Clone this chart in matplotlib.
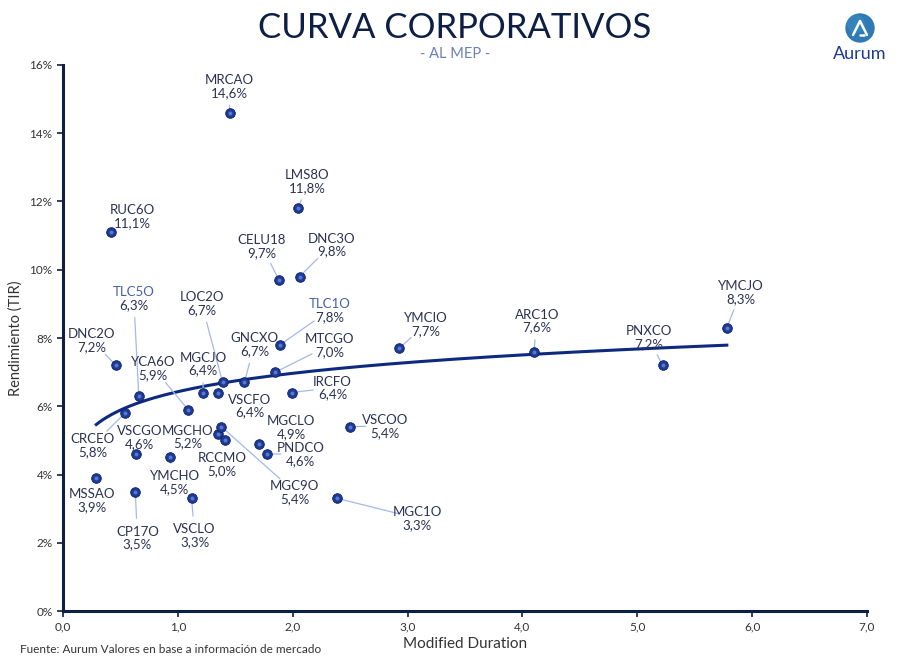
import matplotlib.pyplot as plt
import numpy as np
from matplotlib.patches import Circle

# bonds: modified duration (years) and yield (%)
names = [
    "MRCAO", "LMS8O", "RUC6O", "CELU18", "DNC3O", "TLC1O", "GNCXO", "MTCGO",
    "IRCFO", "YMCIO", "VSCOO", "MGCLO", "PNDCO", "MGC1O", "ARC1O", "PNXCO",
    "YMCJO", "DNC2O", "TLC5O", "CRCEO", "YCA6O", "MGCJO", "VSCFO", "LOC2O",
    "MGCHO", "MGC9O", "RCCMO", "VSCGO", "YMCHO", "MSSAO", "CP17O", "VSCLO",
]
duration = [
    1.45, 2.05, 0.42, 1.88, 2.06, 1.89, 1.58, 1.85,
    1.99, 2.93, 2.50, 1.71, 1.78, 2.39, 4.10, 5.22,
    5.78, 0.46, 0.66, 0.54, 1.09, 1.22, 1.35, 1.39,
    1.35, 1.38, 1.41, 0.64, 0.93, 0.29, 0.63, 1.12,
]
tir = [
    14.6, 11.8, 11.1, 9.7, 9.8, 7.8, 6.7, 7.0,
    6.4, 7.7, 5.4, 4.9, 4.6, 3.3, 7.6, 7.2,
    8.3, 7.2, 6.3, 5.8, 5.9, 6.4, 6.4, 6.7,
    5.2, 5.4, 5.0, 4.6, 4.5, 3.9, 3.5, 3.3,
]

# label offsets in pixels (dx, dy) from the point, and whether a leader is drawn
label_pos = {
    "MRCAO": (0, 27, True), "LMS8O": (9, 27, True), "RUC6O": (21, 16, False),
    "CELU18": (-17, 34, True), "DNC3O": (32, 32, True), "TLC1O": (50, 35, True),
    "GNCXO": (10, 38, True), "MTCGO": (54, 27, True), "IRCFO": (41, 5, True),
    "YMCIO": (26, 24, True), "VSCOO": (35, 1, True), "MGCLO": (32, 17, False),
    "PNDCO": (33, 0, True), "MGC1O": (80, -20, True), "ARC1O": (3, 31, True),
    "PNXCO": (-14, 28, True), "YMCJO": (14, 36, True), "DNC2O": (-24, 25, True),
    "TLC5O": (-5, 98, True), "CRCEO": (-32, -32, True), "YCA6O": (-35, 42, True),
    "MGCJO": (0, 29, True), "VSCFO": (32, -13, False), "LOC2O": (-21, 79, True),
    "MGCHO": (-30, -3, False), "MGC9O": (73, -65, True), "RCCMO": (-3, -24, True),
    "VSCGO": (3, 17, False), "YMCHO": (5, -25, True), "MSSAO": (-4, -22, False),
    "CP17O": (2, -46, True), "VSCLO": (3, -37, True),
}

NAVY = "#0e1f45"
TEXT = "#2c3154"
DOT = "#1d3a96"
LEADER = "#a3b8ec"

plt.rcParams["font.family"] = ["Lato", "DejaVu Sans"]

fig = plt.figure(figsize=(9.1, 6.61), dpi=100)
ax = fig.add_axes([0.0692, 0.0756, 0.8835, 0.8261])

x = np.array(duration)
y = np.array(tir)

# logarithmic trend line over the data range
b, a = np.polyfit(np.log(x), y, 1)
xs = np.linspace(x.min(), x.max(), 200)
ax.plot(xs, a + b * np.log(xs), color="#0d2a80", lw=2.2, zorder=2)

ax.scatter(x, y, s=48, color=DOT, edgecolors="#0b1f66", linewidths=0.6, zorder=4)
ax.scatter(x, y, s=8, color="#5a78c8", linewidths=0, zorder=5)

for name, xi, yi in zip(names, duration, tir):
    dx, dy, leader = label_pos[name]
    val = f"{yi:.1f}%".replace(".", ",")
    color = "#4661a8" if name.startswith("TLC") else TEXT
    ax.annotate(name, (xi, yi), xytext=(dx, dy + 6), textcoords="offset pixels",
                ha="center", va="center", fontsize=9.5, color=color, zorder=6)
    ax.annotate(val, (xi, yi), xytext=(dx, dy - 7), textcoords="offset pixels",
                ha="center", va="center", fontsize=9.5, color=TEXT, zorder=6)
    if leader:
        ax.annotate("", (xi, yi), xytext=(dx, dy), textcoords="offset pixels",
                    arrowprops=dict(arrowstyle="-", color=LEADER, lw=0.9,
                                    shrinkA=14, shrinkB=3), zorder=3)

ax.set_xlim(0, 7)
ax.set_ylim(0, 16)
ax.set_xticks(np.arange(0, 8, 1))
ax.set_xticklabels([f"{v:.1f}".replace(".", ",") for v in range(8)])
ax.set_yticks(np.arange(0, 18, 2))
ax.set_yticklabels([f"{v}%" for v in range(0, 18, 2)])
ax.tick_params(labelsize=8.5, colors="#333333", length=4, width=1.2)
ax.tick_params(axis="both", color=NAVY)
for s in ["top", "right"]:
    ax.spines[s].set_visible(False)
for s in ["left", "bottom"]:
    ax.spines[s].set_color(NAVY)
    ax.spines[s].set_linewidth(2.2)

ax.set_xlabel("Modified Duration", fontsize=11, color="#333333", labelpad=3)
ax.set_ylabel("Rendimiento (TIR)", fontsize=10.5, color="#333333", labelpad=5)

fig.text(0.5, 0.957, "CURVA CORPORATIVOS", ha="center", va="center",
         fontsize=25, color=NAVY)
fig.text(0.5, 0.918, "- AL MEP -", ha="center", va="center",
         fontsize=10.5, color="#6b7fb8")
fig.text(0.022, 0.018, "Fuente: Aurum Valores en base a información de mercado",
         ha="left", va="center", fontsize=8.5, color="#333333")

# logo, drawn in a small axes with 1 unit = 1 pixel
lax = fig.add_axes([820 / 910, 1 - 64 / 661, 80 / 910, 56 / 661])
lax.set_xlim(0, 80)
lax.set_ylim(0, 56)
lax.axis("off")
lax.add_patch(Circle((40, 36), 14, color="#2f7ab5"))
lax.add_patch(Circle((36, 40), 9, color="#3a8fc0", alpha=0.5, lw=0))
lax.plot([33, 40, 47], [29, 43, 29], color="white", lw=1.8, solid_capstyle="round")
lax.plot([40, 44], [29, 29], color="white", lw=1.8, solid_capstyle="round")
lax.text(40, 10, "Aurum", ha="center", va="center", fontsize=13, color="#1d3a96")

fig.savefig("out.png", dpi=100)
